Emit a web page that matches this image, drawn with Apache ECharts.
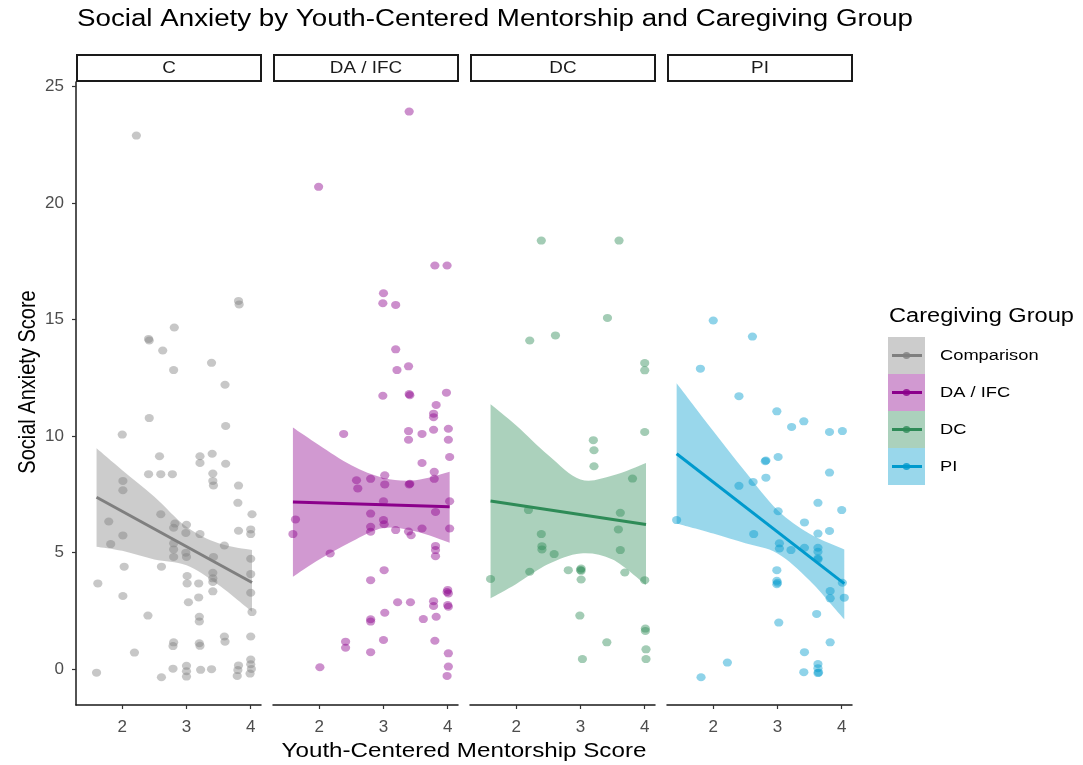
<!DOCTYPE html>
<html><head><meta charset="utf-8">
<script src="https://cdn.jsdelivr.net/npm/echarts@6/dist/echarts.min.js"></script>
<style>html,body{margin:0;padding:0;background:#fff}#c{width:1083px;height:765px}</style>
</head><body><div id="c"></div>
<script>
// ---------------- DATA ----------------
const chartTitle = 'Social Anxiety by Youth-Centered Mentorship and Caregiving Group';
const xTitle = 'Youth-Centered Mentorship Score';
const yTitle = 'Social Anxiety Score';
const legendTitle = 'Caregiving Group';
const groupNames = ['Comparison', 'DA / IFC', 'DC', 'PI'];
const stripLabels = ['C', 'DA / IFC', 'DC', 'PI'];
const xTicks = [2, 3, 4];
const yTicks = [0, 5, 10, 15, 20, 25];

const pointsComparison = [[2.22,22.9],[3.81,15.8],[3.82,15.65],[2.81,14.66],[2.41,14.17],[2.42,14.1],[2.63,13.67],[2.80,12.83],[3.39,13.14],[3.60,12.2],
[2.42,10.77],[2.0,10.06],[3.61,10.43],[2.58,9.13],[3.21,9.13],[3.21,8.84],[3.40,9.24],[3.61,8.81],[2.01,8.07],[2.01,7.67],[2.41,8.36],[2.60,8.36],[2.78,8.36],[3.41,8.39],[3.41,8.07],[3.42,7.88],[3.81,7.87],[3.80,7.13],[4.02,6.64],[1.79,6.33],[2.60,6.64],[2.82,6.24],[2.80,6.06],[3.0,6.19],[2.99,5.84],[3.21,5.79],[3.81,5.93],[4.0,5.99],[4.0,5.79],[2.01,5.73],[1.82,5.36],[2.80,5.39],[2.80,5.13],[2.80,4.81],[2.99,4.99],[3.0,4.81],[3.59,5.30],[3.42,4.81],[4.0,4.73],[4.0,4.07],[2.03,4.39],[2.61,4.39],[3.41,4.13],[3.41,3.89],[3.41,3.73],[3.41,3.33],[1.62,3.67],[3.01,3.99],[3.01,3.67],[3.19,3.67],[4.0,3.27],[2.01,3.13],[3.19,3.07],[3.03,2.86],[4.02,2.44],[2.40,2.29],[3.20,2.24],[3.20,2.04],[3.59,1.39],[3.60,1.17],[2.80,1.14],[2.79,0.98],[3.20,1.10],[3.21,0.99],[4.0,1.39],[2.19,0.70],[2.79,0.01],[3.0,0.13],[3.0,-0.1],[3.0,-0.33],[3.22,-0.04],[3.39,-0.01],[3.81,0.15],[3.80,-0.05],[3.79,-0.3],[4.0,0.4],[4.0,0.2],[4.01,0.0],[3.99,-0.2],[1.60,-0.16],[2.61,-0.36]];
const pointsDAIFC = [[3.40,23.93],[1.99,20.70],[3.80,17.32],[3.99,17.32],[3.0,16.13],[2.99,15.70],[3.19,15.63],[3.19,13.72],[3.21,12.83],[3.39,12.99],[2.99,11.73],[3.40,11.8],[3.41,11.75],[3.98,11.86],[3.82,11.33],[3.78,10.96],[3.78,10.81],[2.38,10.09],[3.39,10.21],[3.39,9.84],[3.60,10.09],[3.78,10.27],[4.01,10.31],[4.01,9.84],[4.03,9.1],[3.60,8.84],[2.58,8.1],[2.60,7.75],[2.80,8.16],[3.02,8.31],[3.02,7.92],[3.40,7.92],[3.41,7.95],[3.79,8.46],[3.79,8.16],[4.03,7.2],[3.0,7.2],[1.63,6.42],[1.59,5.79],[2.80,6.67],[3.0,6.39],[3.01,6.21],[2.80,6.1],[2.80,5.89],[3.19,5.96],[3.39,5.9],[3.43,5.74],[3.60,6.03],[3.81,6.74],[4.03,6.03],[3.81,5.28],[3.81,5.10],[3.81,4.84],[2.17,4.96],[3.01,4.24],[2.80,3.81],[4.0,3.39],[4.01,3.24],[3.99,3.3],[3.22,2.86],[3.42,2.86],[3.78,2.91],[3.78,2.70],[4.0,2.74],[4.01,2.67],[3.02,2.41],[2.80,2.13],[2.80,2.03],[3.62,2.14],[3.82,2.24],[2.41,1.17],[2.41,0.91],[3.0,1.24],[3.80,1.21],[2.80,0.72],[4.01,0.67],[4.01,0.1],[3.99,-0.3],[2.01,0.07]];
const pointsDC = [[2.39,18.39],[3.60,18.39],[3.42,15.07],[2.21,14.1],[2.61,14.32],[4.0,13.13],[4.0,12.82],[4.0,10.17],[3.20,9.82],[3.21,9.39],[3.21,8.70],[3.81,8.17],[2.19,6.82],[3.62,6.7],[3.59,5.99],[2.39,5.79],[2.40,5.27],[2.40,5.13],[2.59,4.93],[3.62,5.1],[2.21,4.17],[2.81,4.24],[3.01,4.31],[3.01,4.21],[3.0,4.25],[3.01,3.84],[3.69,4.14],[1.60,3.86],[4.0,3.81],[2.99,2.29],[4.01,1.73],[4.01,1.63],[3.41,1.14],[3.03,0.42],[4.02,0.84],[4.02,0.42]];
const pointsPI = [[2.0,14.96],[2.61,14.27],[1.80,12.89],[2.40,11.71],[2.99,11.06],[3.22,10.39],[3.41,10.63],[3.81,10.17],[4.01,10.21],[2.81,8.92],[2.82,8.95],[3.01,9.1],[3.81,8.43],[2.82,8.21],[2.62,8.03],[2.40,7.86],[3.63,7.13],[4.0,6.82],[3.01,6.77],[1.43,6.39],[3.42,6.29],[3.63,5.81],[3.81,5.92],[2.63,5.79],[3.03,5.39],[3.03,5.17],[3.21,5.1],[3.42,5.2],[3.63,5.2],[3.63,5.03],[3.63,4.7],[3.63,4.75],[2.99,4.24],[2.99,3.78],[2.99,3.64],[3.0,3.7],[4.01,3.7],[3.82,3.34],[3.82,3.03],[4.04,3.06],[3.61,2.36],[3.02,1.99],[3.82,1.14],[3.42,0.72],[3.63,0.21],[3.63,0.03],[3.63,-0.18],[3.64,-0.15],[3.41,-0.14],[2.22,0.27],[1.81,-0.36]];

// fitted lines (start/end)
const fitComparison = [[1.60,7.37],[4.02,3.71]];
const fitDAIFC = [[1.59,7.17],[4.03,6.96]];
const fitDC = [[1.60,7.21],[4.02,6.20]];
const fitPI = [[1.43,9.24],[4.04,3.66]];

// confidence ribbons
const ribbonXComparison = [1.60, 2.0, 2.5, 3.0, 3.5, 4.02];
const ribbonLowComparison = [5.25, 5.07, 4.70, 4.45, 3.60, 2.45];
const ribbonHighComparison = [9.47, 8.53, 7.39, 6.10, 5.39, 5.10];
const ribbonXDAIFC = [1.59, 2.0, 2.5, 3.0, 3.5, 4.03];
const ribbonLowDAIFC = [3.96, 4.70, 5.46, 6.05, 5.90, 5.42];
const ribbonHighDAIFC = [10.36, 9.60, 8.74, 8.20, 8.10, 8.46];
const ribbonXDC = [1.60, 2.0, 2.5, 3.0, 3.5, 4.02];
const ribbonLowDC = [3.03, 3.65, 4.50, 4.96, 4.70, 3.60];
const ribbonHighDC = [11.36, 10.45, 9.17, 8.13, 8.30, 8.84];
const ribbonXPI = [1.43, 2.0, 2.5, 3.0, 3.5, 4.04];
const ribbonLowPI = [6.24, 5.81, 5.39, 4.96, 3.80, 2.13];
const ribbonHighPI = [12.27, 10.22, 8.46, 6.82, 5.80, 5.13];

// ---------------- BUILD ----------------
const panels = [
  {pts: pointsComparison, fit: fitComparison, rx: ribbonXComparison, lo: ribbonLowComparison, hi: ribbonHighComparison, rgb: [127,127,127]},
  {pts: pointsDAIFC, fit: fitDAIFC, rx: ribbonXDAIFC, lo: ribbonLowDAIFC, hi: ribbonHighDAIFC, rgb: [139,0,139]},
  {pts: pointsDC, fit: fitDC, rx: ribbonXDC, lo: ribbonLowDC, hi: ribbonHighDC, rgb: [46,139,87]},
  {pts: pointsPI, fit: fitPI, rx: ribbonXPI, lo: ribbonLowPI, hi: ribbonHighPI, rgb: [0,154,205]}
];
const rgba = (c, a) => `rgba(${c[0]},${c[1]},${c[2]},${a})`;
const blend = (c, a) => `rgb(${c.map(v => Math.round(v*a + 255*(1-a))).join(',')})`;

const panelLeft = [76, 273, 470, 667];
const panelW = 185, panelTop = 82, panelBottom = 705;
const XMIN = 1.28, XMAX = 4.16, YMIN = -1.55, YMAX = 25.2;
const fontFam = '"Liberation Sans", Arial, sans-serif';
const SX = 1.18; // horizontal stretch of the reference text

// smooth path through pixel points (Catmull-Rom -> cubic Bezier)
function curveThrough(pts, moveFirst) {
  let d = (moveFirst ? 'M' : 'L') + pts[0][0] + ' ' + pts[0][1];
  for (let k = 0; k < pts.length - 1; k++) {
    const p0 = pts[Math.max(k - 1, 0)], p1 = pts[k], p2 = pts[k + 1], p3 = pts[Math.min(k + 2, pts.length - 1)];
    const c1 = [p1[0] + (p2[0] - p0[0]) / 6, p1[1] + (p2[1] - p0[1]) / 6];
    const c2 = [p2[0] - (p3[0] - p1[0]) / 6, p2[1] - (p3[1] - p1[1]) / 6];
    d += ` C${c1[0]} ${c1[1]} ${c2[0]} ${c2[1]} ${p2[0]} ${p2[1]}`;
  }
  return d;
}

const grids = [], xAxes = [], yAxes = [], series = [], graphics = [];
panels.forEach((p, i) => {
  grids.push({left: panelLeft[i], top: panelTop, width: panelW, height: panelBottom - panelTop, containLabel: false});
  xAxes.push({
    type: 'value', gridIndex: i, min: XMIN, max: XMAX,
    axisLine: {show: true, onZero: false, lineStyle: {color: '#1a1a1a', width: 1.5}},
    axisTick: {show: true, length: 4, lineStyle: {color: '#333', width: 1.2}, customValues: xTicks},
    axisLabel: {color: '#4d4d4d', fontSize: 17, fontFamily: fontFam, margin: 14, customValues: xTicks},
    splitLine: {show: false}
  });
  yAxes.push({
    type: 'value', gridIndex: i, min: YMIN, max: YMAX,
    axisLine: {show: i === 0, onZero: false, lineStyle: {color: '#1a1a1a', width: 1.5}},
    axisTick: {show: i === 0, length: 4, lineStyle: {color: '#333', width: 1.2}, customValues: yTicks},
    axisLabel: {show: i === 0, color: '#4d4d4d', fontSize: 17, fontFamily: fontFam, margin: 12, customValues: yTicks},
    splitLine: {show: false}
  });
  series.push({
    type: 'scatter', xAxisIndex: i, yAxisIndex: i, data: p.pts, symbolSize: [9.2, 8],
    itemStyle: {color: rgba(p.rgb, 0.55)}, z: 2, silent: true
  });
  series.push({
    type: 'custom', xAxisIndex: i, yAxisIndex: i, data: [[p.rx[0], p.lo[0]]], z: 3, silent: true,
    renderItem: function (params, api) {
      const up = p.rx.map((x, k) => api.coord([x, p.hi[k]]));
      const lo = p.rx.map((x, k) => api.coord([x, p.lo[k]])).reverse();
      const d = curveThrough(up, true) + ' ' + curveThrough(lo, false) + ' Z';
      return {type: 'path', shape: {pathData: d}, style: {fill: rgba(p.rgb, 0.4), stroke: null}};
    }
  });
  series.push({
    type: 'line', xAxisIndex: i, yAxisIndex: i, data: p.fit, symbol: 'none',
    lineStyle: {color: rgba(p.rgb, 1), width: 3}, z: 4, silent: true
  });
  // facet strip
  graphics.push({
    type: 'group', x: panelLeft[i] + 1, y: 55,
    children: [
      {type: 'rect', shape: {x: 0, y: 0, width: panelW - 1, height: 26}, style: {fill: '#fff', stroke: '#1a1a1a', lineWidth: 2}},
      {type: 'text', x: (panelW - 1) / 2, y: 13.5, scaleX: SX, style: {text: stripLabels[i], fill: '#1a1a1a', font: '16px ' + fontFam, align: 'center', verticalAlign: 'middle'}}
    ]
  });
});

// title and axis titles
graphics.push({type: 'text', x: 77, y: 20, scaleX: SX, style: {text: chartTitle, fill: '#000', font: '23.5px ' + fontFam, align: 'left', verticalAlign: 'middle'}});
graphics.push({type: 'text', x: 464, y: 751, scaleX: SX, style: {text: xTitle, fill: '#000', font: '20.5px ' + fontFam, align: 'center', verticalAlign: 'middle'}});
graphics.push({type: 'text', x: 28, y: 382, rotation: Math.PI / 2, scaleY: SX, style: {text: yTitle, fill: '#000', font: '20px ' + fontFam, align: 'center', verticalAlign: 'middle'}});

// legend
const lgX = 888, lgY = 337, keyH = 37, keyW = 37;
graphics.push({type: 'text', x: 889, y: 316, scaleX: SX, style: {text: legendTitle, fill: '#000', font: '20px ' + fontFam, align: 'left', verticalAlign: 'middle'}});
panels.forEach((p, i) => {
  const y0 = lgY + i * keyH;
  graphics.push({type: 'rect', shape: {x: lgX, y: y0, width: keyW, height: keyH}, style: {fill: blend(p.rgb, 0.4)}});
  graphics.push({type: 'line', shape: {x1: lgX + 4, y1: y0 + keyH / 2, x2: lgX + keyW - 3, y2: y0 + keyH / 2}, style: {stroke: rgba(p.rgb, 1), lineWidth: 3}});
  graphics.push({type: 'ellipse', shape: {cx: lgX + keyW / 2, cy: y0 + keyH / 2, rx: 4, ry: 3.5}, style: {fill: rgba(p.rgb, 0.8)}});
  graphics.push({type: 'text', x: 940, y: y0 + keyH / 2, scaleX: SX, style: {text: groupNames[i], fill: '#000', font: '15.5px ' + fontFam, align: 'left', verticalAlign: 'middle'}});
});

const chart = echarts.init(document.getElementById('c'), null, {renderer: 'canvas'});
chart.setOption({
  backgroundColor: '#fff',
  animation: false,
  grid: grids, xAxis: xAxes, yAxis: yAxes, series: series, graphic: graphics
});
</script>
</body></html>
